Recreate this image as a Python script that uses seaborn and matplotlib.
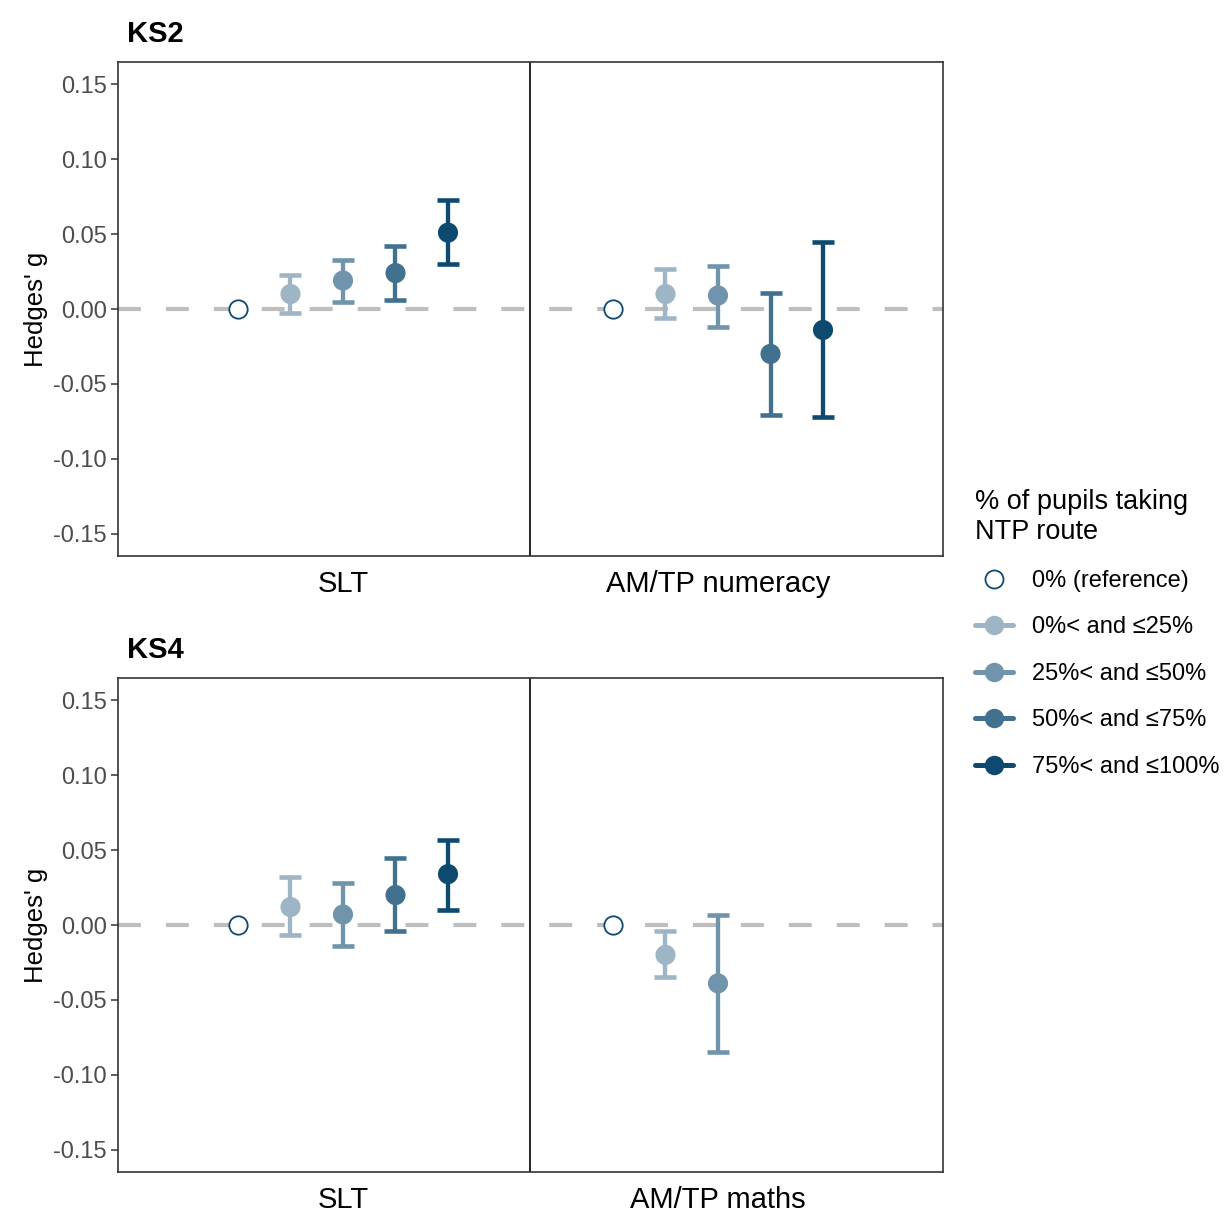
import numpy as np
import pandas as pd
import matplotlib
matplotlib.use("Agg")
import matplotlib.pyplot as plt
from matplotlib.lines import Line2D
import seaborn as sns

# NTP route bands (legend order)
groups = ["0% (reference)", "0%< and ≤25%", "25%< and ≤50%",
          "50%< and ≤75%", "75%< and ≤100%"]
palette = ["#0E4A70", "#9DB5C5", "#7094AC", "#41718F", "#0E4A70"]

# KS2 estimates (Hedges' g) with 95% CI
ks2_outcomes = ["SLT", "AM/TP numeracy"]
ks2_slt_est = [0.0, 0.010, 0.019, 0.024, 0.051]
ks2_slt_lo = [np.nan, -0.003, 0.005, 0.006, 0.030]
ks2_slt_hi = [np.nan, 0.023, 0.033, 0.042, 0.073]
ks2_num_est = [0.0, 0.010, 0.009, -0.030, -0.014]
ks2_num_lo = [np.nan, -0.006, -0.012, -0.071, -0.072]
ks2_num_hi = [np.nan, 0.027, 0.029, 0.011, 0.045]

# KS4
ks4_outcomes = ["SLT", "AM/TP maths"]
ks4_slt_est = [0.0, 0.012, 0.007, 0.020, 0.034]
ks4_slt_lo = [np.nan, -0.007, -0.014, -0.004, 0.010]
ks4_slt_hi = [np.nan, 0.032, 0.028, 0.045, 0.057]
ks4_mat_est = [0.0, -0.020, -0.039]
ks4_mat_lo = [np.nan, -0.035, -0.085]
ks4_mat_hi = [np.nan, -0.004, 0.007]

yticks = [0.15, 0.10, 0.05, 0.00, -0.05, -0.10, -0.15]


def make_frame(outcomes, series):
    rows = []
    for oi, (est, lo, hi) in enumerate(series):
        for gi in range(len(est)):
            rows.append(dict(outcome=outcomes[oi], oi=oi, group=groups[gi], gi=gi,
                             est=est[gi], lo=lo[gi], hi=hi[gi]))
    df = pd.DataFrame(rows)
    df["x"] = df["oi"] + (df["gi"] - 2) * 0.14  # dodge
    return df


ks2 = make_frame(ks2_outcomes, [(ks2_slt_est, ks2_slt_lo, ks2_slt_hi),
                                (ks2_num_est, ks2_num_lo, ks2_num_hi)])
ks4 = make_frame(ks4_outcomes, [(ks4_slt_est, ks4_slt_lo, ks4_slt_hi),
                                (ks4_mat_est, ks4_mat_lo, ks4_mat_hi)])

sns.set_theme(style="white")
plt.rcParams["font.family"] = ["Liberation Sans", "DejaVu Sans"]
plt.rcParams["text.color"] = "black"

W, H = 1232, 1225
fig = plt.figure(figsize=(W / 100, H / 100), dpi=100)


def panel(df, outcomes, title, top_px):
    ax = fig.add_axes([118 / W, 1 - (top_px + 494) / H, 825 / W, 494 / H])
    ax.axhline(0, color="#BEBEBE", lw=3, dashes=(5.5, 6), zorder=1)
    ax.axvline(0.5, color="black", lw=1.2, zorder=1)
    ref = df[df.gi == 0]
    rest = df[df.gi > 0]
    for _, r in rest.iterrows():
        c = palette[r.gi]
        ax.errorbar(r.x, r.est, yerr=[[r.est - r.lo], [r.hi - r.est]], fmt="none",
                    ecolor=c, elinewidth=3.1, capsize=8, capthick=3.3, zorder=2)
    sns.scatterplot(data=rest, x="x", y="est", hue="group",
                    palette=dict(zip(groups, palette)), s=210, edgecolor="none",
                    legend=False, ax=ax, zorder=3)
    ax.scatter(ref.x, ref.est, s=175, facecolor="white", edgecolor=palette[0],
               linewidth=1.3, zorder=3)
    ax.set_xlim(-0.6, 1.6)
    ax.set_ylim(-0.165, 0.165)
    ax.set_xticks([0, 1])
    ax.set_xticklabels(outcomes, fontsize=21, color="black")
    ax.set_yticks(yticks)
    ax.set_yticklabels([f"{v:.2f}" for v in yticks], fontsize=17, color="#4D4D4D")
    ax.tick_params(axis="y", left=True, length=5, width=1.1, color="#333333", pad=3)
    ax.tick_params(axis="x", bottom=False, pad=4)
    ax.set_xlabel("")
    ax.set_ylabel("Hedges' g", fontsize=18.5, color="black", labelpad=4)
    for s in ax.spines.values():
        s.set_color("#333333")
        s.set_linewidth(1.2)
    ax.text(9 / 825, 1 + 20 / 494, title, transform=ax.transAxes, color="black",
            fontsize=21, fontweight="bold", ha="left", va="baseline")
    return ax


panel(ks2, ks2_outcomes, "KS2", 62)
panel(ks4, ks4_outcomes, "KS4", 678)

handles = [Line2D([], [], marker="o", ls="none", markersize=13,
                  markerfacecolor="white", markeredgecolor=palette[0], markeredgewidth=1.3)]
for c in palette[1:]:
    handles.append(Line2D([], [], color=c, lw=3.6, marker="o", markersize=14,
                          markeredgecolor="none"))
leg = fig.legend(handles, groups, loc="upper left",
                 bbox_to_anchor=(954 / W, 1 - 468 / H), frameon=False,
                 title="% of pupils taking\nNTP route", fontsize=17,
                 title_fontsize=19.5, handlelength=1.6, handletextpad=0.8,
                 labelspacing=1.04, alignment="left")
for t in leg.get_texts():
    t.set_color("black")
leg.get_title().set_color("black")

fig.savefig("out.png", dpi=100)
